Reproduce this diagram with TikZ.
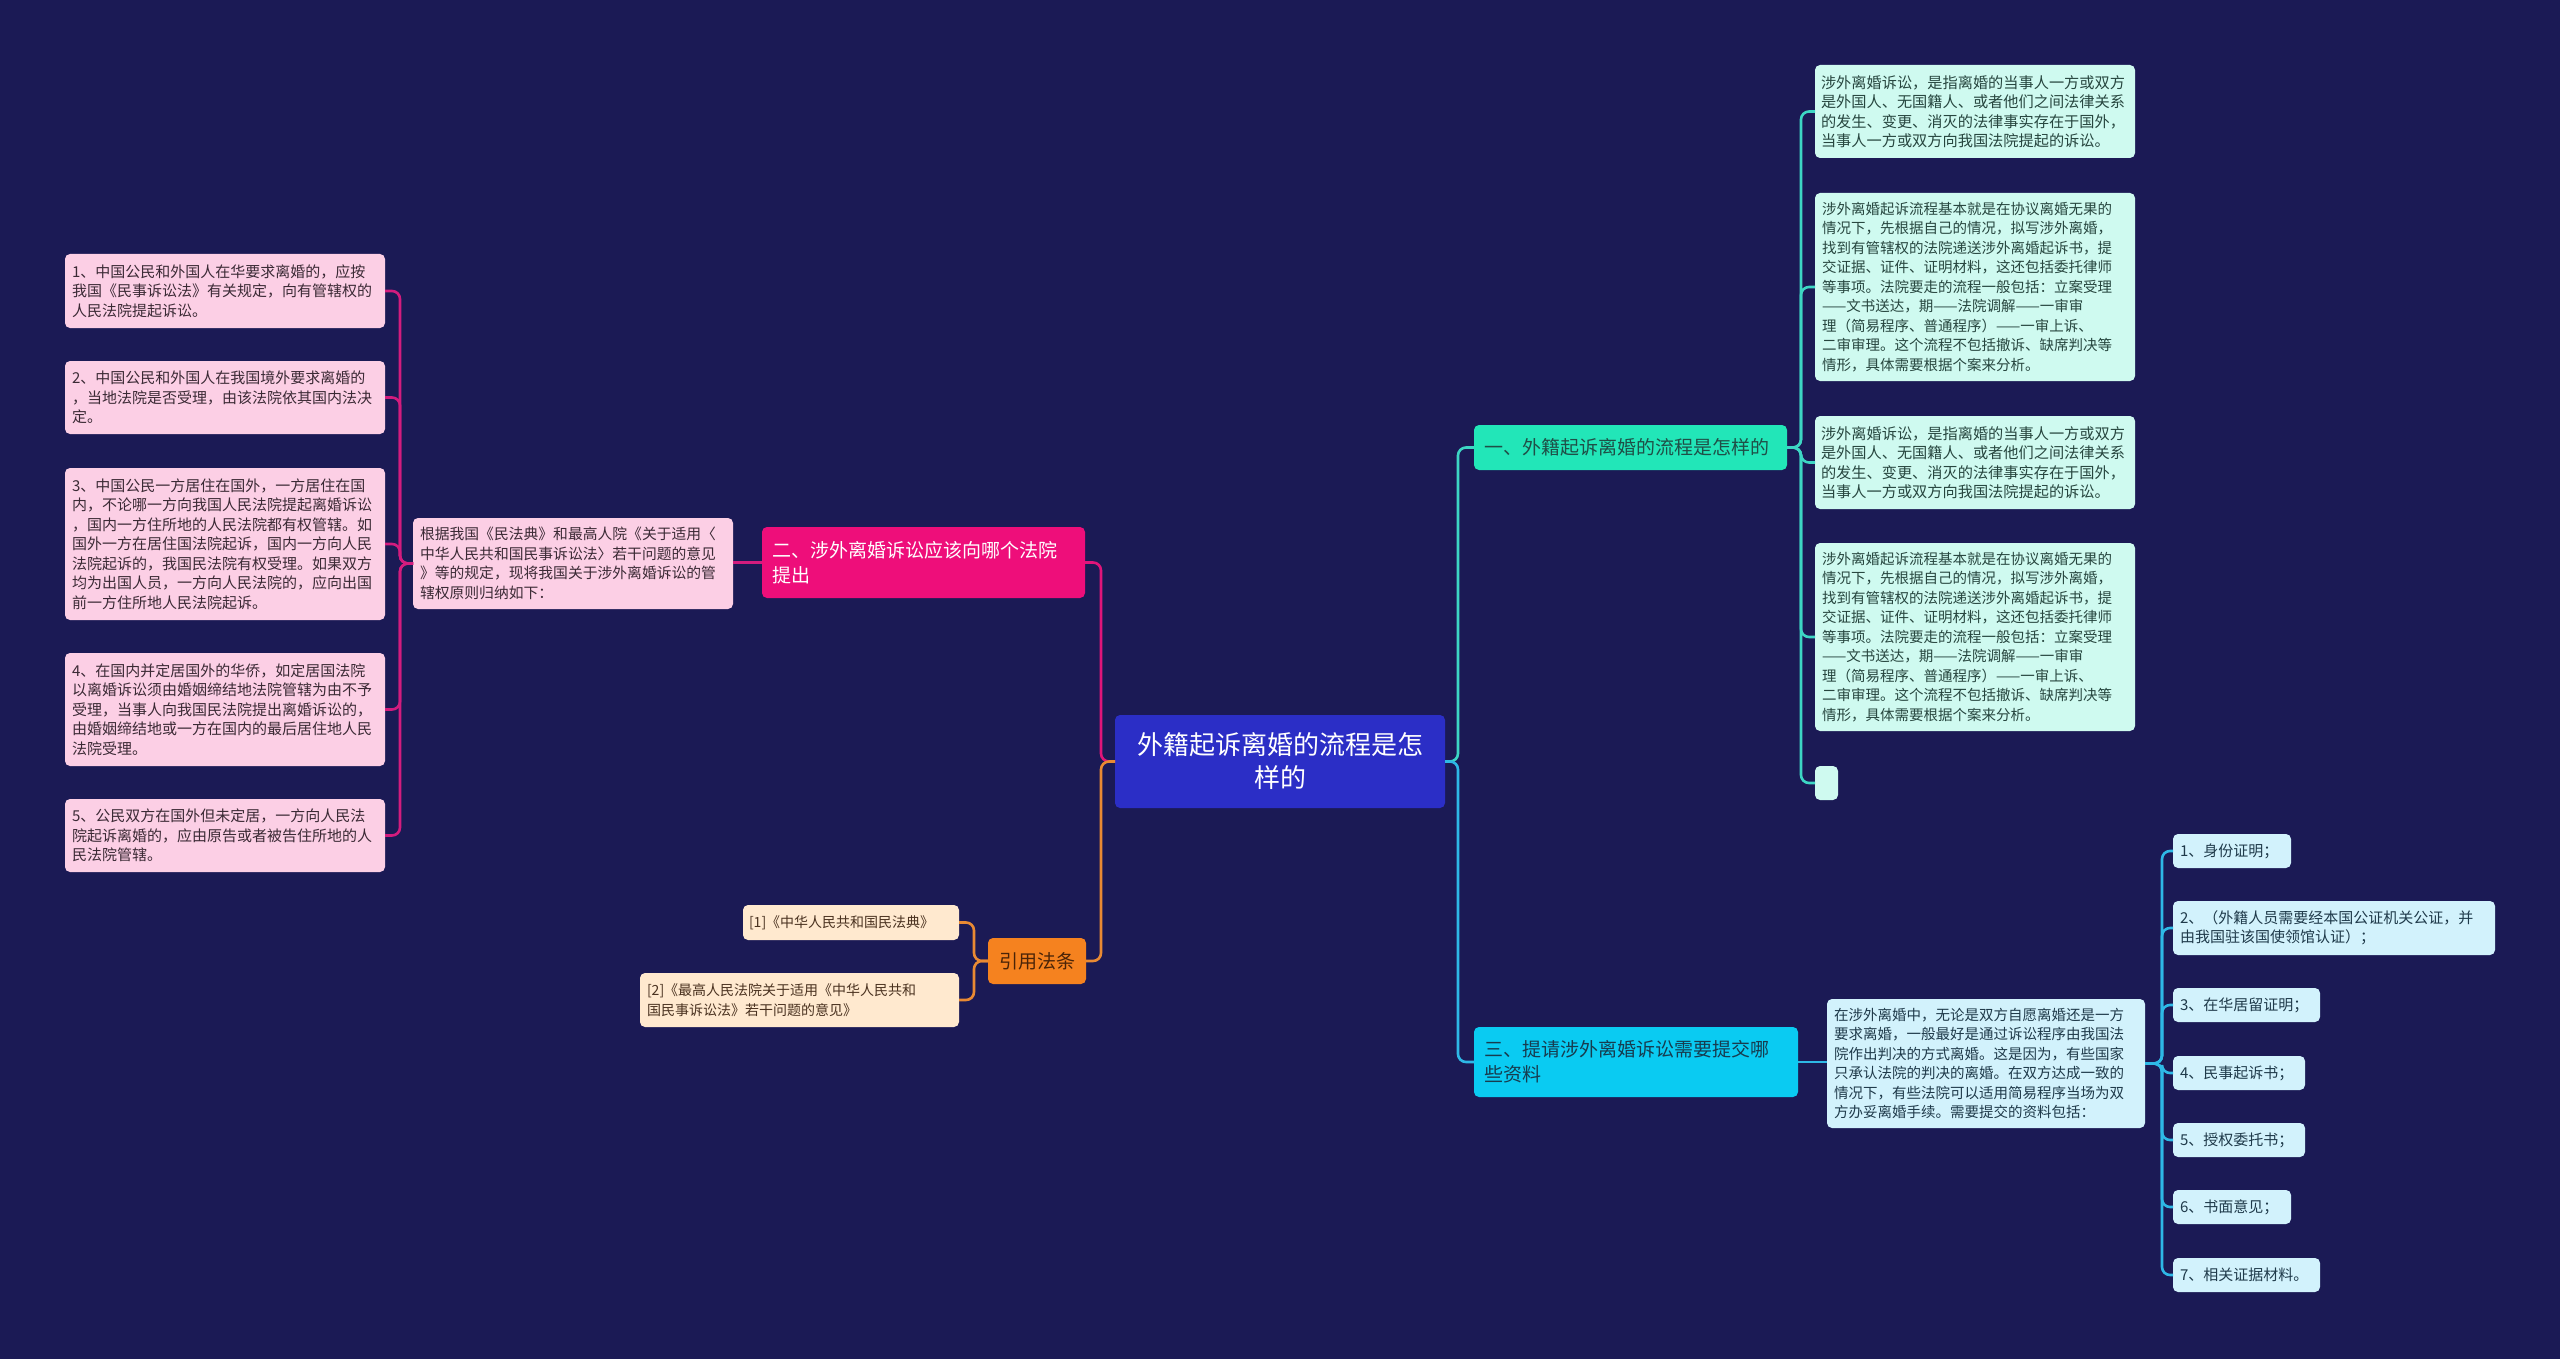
\documentclass[tikz,border=0pt]{standalone}
\usepackage{fontspec}
\setmainfont{Noto Sans CJK SC}
\definecolor{bgc}{HTML}{1B1A55}
\definecolor{centerfill}{HTML}{2B2EC6}
\definecolor{mintfill}{HTML}{CFFAF0}
\definecolor{minttext}{HTML}{27463F}
\definecolor{branchmint}{HTML}{22E6B8}
\definecolor{branchmtext}{HTML}{1F4F47}
\definecolor{branchpink}{HTML}{EE0E7A}
\definecolor{pinkfill}{HTML}{FCCFE5}
\definecolor{pinktext}{HTML}{3B2A35}
\definecolor{branchorange}{HTML}{F5821F}
\definecolor{orangetext}{HTML}{4A2408}
\definecolor{peachfill}{HTML}{FFE9CF}
\definecolor{peachtext}{HTML}{4A3220}
\definecolor{branchcyan}{HTML}{0ACBF2}
\definecolor{cyantextdark}{HTML}{173C4F}
\definecolor{cyanfill}{HTML}{D2F2FC}
\definecolor{cyantext}{HTML}{1F3A4A}
\definecolor{linepink}{HTML}{E0157A}
\definecolor{linemag}{HTML}{D31C7E}
\definecolor{lineorange}{HTML}{E98A33}
\definecolor{linemint}{HTML}{3DD6C4}
\definecolor{linecyan}{HTML}{2EB8E6}
\begin{document}
\begin{tikzpicture}[x=1pt,y=-1pt,
  box/.style={rounded corners=5pt, inner xsep=7pt, inner ysep=0pt, align=left, anchor=north west, outer sep=0pt},
  ldet/.style={box, fill=pinkfill, text=pinktext, font=\fontsize{15}{19.5}\selectfont},
  rdet/.style={box, fill=mintfill, text=minttext, font=\fontsize{14.5}{19.5}\selectfont},
  cdet/.style={box, fill=cyanfill, text=cyantext, font=\fontsize{14.5}{19.5}\selectfont},
  itembox/.style={box, fill=cyanfill, text=cyantext, font=\fontsize{15}{19.5}\selectfont},
  citebox/.style={box, fill=peachfill, text=peachtext, font=\fontsize{14}{19.5}\selectfont},
  branchbox/.style={box, inner xsep=10pt, font=\fontsize{19}{25}\selectfont},
  edgebase/.style={line width=2.6pt, rounded corners=8pt},
  epink/.style={edgebase, draw=linepink},
  emag/.style={edgebase, draw=linemag},
  eorange/.style={edgebase, draw=lineorange},
  emint/.style={edgebase, draw=linemint},
  ecyan/.style={edgebase, draw=linecyan}
]
\fill[bgc] (0,0) rectangle (2560,1359);
\useasboundingbox (0,0) rectangle (2560,1359);

% central topic
\node[box, fill=centerfill, text=white, align=center, inner xsep=7pt,
  font=\fontsize{26}{33}\selectfont, minimum width=330pt, minimum height=93pt, text width=316pt]
  (c) at (1115,715) {外籍起诉离婚的流程是怎\\样的};

% branches
\node[branchbox, fill=branchmint, text=branchmtext, minimum width=313pt, minimum height=45pt, text width=293pt]
  (b1) at (1474,425) {一、外籍起诉离婚的流程是怎样的};
\node[branchbox, fill=branchpink, text=white, minimum width=323pt, minimum height=71pt, text width=303pt]
  (b2) at (762,527) {二、涉外离婚诉讼应该向哪个法院\\提出};
\node[branchbox, fill=branchcyan, text=cyantextdark, minimum width=324pt, minimum height=70pt, text width=304pt]
  (b3) at (1474,1027) {三、提请涉外离婚诉讼需要提交哪\\些资料};
\node[branchbox, fill=branchorange, text=orangetext, align=center, inner xsep=5pt, minimum width=98pt, minimum height=46pt, text width=88pt]
  (cite) at (988,938) {引用法条};

% branch 1 details
\node[rdet, font=\fontsize{15.2}{19.5}\selectfont, inner xsep=6pt, minimum width=320pt, minimum height=93pt, text width=308pt] (r1) at (1815,65)
  {涉外离婚诉讼，是指离婚的当事人一方或双方\\是外国人、无国籍人、或者他们之间法律关系\\的发生、变更、消灭的法律事实存在于国外，\\当事人一方或双方向我国法院提起的诉讼。};
\node[rdet, minimum width=320pt, minimum height=188pt, text width=306pt] (r2) at (1815,193)
  {涉外离婚起诉流程基本就是在协议离婚无果的\\情况下，先根据自己的情况，拟写涉外离婚，\\找到有管辖权的法院递送涉外离婚起诉书，提\\交证据、证件、证明材料，这还包括委托律师\\等事项。法院要走的流程一般包括：立案受理\\——文书送达，期——法院调解——一审审\\理（简易程序、普通程序）——一审上诉、\\二审审理。这个流程不包括撤诉、缺席判决等\\情形，具体需要根据个案来分析。};
\node[rdet, font=\fontsize{15.2}{19.5}\selectfont, inner xsep=6pt, minimum width=320pt, minimum height=93pt, text width=308pt] (r3) at (1815,416)
  {涉外离婚诉讼，是指离婚的当事人一方或双方\\是外国人、无国籍人、或者他们之间法律关系\\的发生、变更、消灭的法律事实存在于国外，\\当事人一方或双方向我国法院提起的诉讼。};
\node[rdet, minimum width=320pt, minimum height=188pt, text width=306pt] (r4) at (1815,543)
  {涉外离婚起诉流程基本就是在协议离婚无果的\\情况下，先根据自己的情况，拟写涉外离婚，\\找到有管辖权的法院递送涉外离婚起诉书，提\\交证据、证件、证明材料，这还包括委托律师\\等事项。法院要走的流程一般包括：立案受理\\——文书送达，期——法院调解——一审审\\理（简易程序、普通程序）——一审上诉、\\二审审理。这个流程不包括撤诉、缺席判决等\\情形，具体需要根据个案来分析。};
\node[rdet, inner xsep=0pt, minimum width=23pt, minimum height=34pt] (r5) at (1815,766) {};

% branch 2 details
\node[ldet, font=\fontsize{14.8}{19.5}\selectfont, minimum width=320pt, minimum height=91pt, text width=306pt] (d2) at (413,518)
  {根据我国《民法典》和最高人院《关于适用〈\\中华人民共和国民事诉讼法〉若干问题的意见\\》等的规定，现将我国关于涉外离婚诉讼的管\\辖权原则归纳如下：};
\node[ldet, minimum width=320pt, minimum height=74pt, text width=306pt] (l1) at (65,254)
  {1、中国公民和外国人在华要求离婚的，应按\\我国《民事诉讼法》有关规定，向有管辖权的\\人民法院提起诉讼。};
\node[ldet, minimum width=320pt, minimum height=73pt, text width=306pt] (l2) at (65,361)
  {2、中国公民和外国人在我国境外要求离婚的\\，当地法院是否受理，由该法院依其国内法决\\定。};
\node[ldet, minimum width=320pt, minimum height=152pt, text width=306pt] (l3) at (65,468)
  {3、中国公民一方居住在国外，一方居住在国\\内，不论哪一方向我国人民法院提起离婚诉讼\\，国内一方住所地的人民法院都有权管辖。如\\国外一方在居住国法院起诉，国内一方向人民\\法院起诉的，我国民法院有权受理。如果双方\\均为出国人员，一方向人民法院的，应向出国\\前一方住所地人民法院起诉。};
\node[ldet, minimum width=320pt, minimum height=113pt, text width=306pt] (l4) at (65,653)
  {4、在国内并定居国外的华侨，如定居国法院\\以离婚诉讼须由婚姻缔结地法院管辖为由不予\\受理，当事人向我国民法院提出离婚诉讼的，\\由婚姻缔结地或一方在国内的最后居住地人民\\法院受理。};
\node[ldet, minimum width=320pt, minimum height=73pt, text width=306pt] (l5) at (65,799)
  {5、公民双方在国外但未定居，一方向人民法\\院起诉离婚的，应由原告或者被告住所地的人\\民法院管辖。};

% citations
\node[citebox, inner xsep=6pt, minimum width=216pt, minimum height=35pt, text width=204pt] (q1) at (743,905)
  {[1]《中华人民共和国民法典》};
\node[citebox, minimum width=319pt, minimum height=54pt, text width=305pt] (q2) at (640,973)
  {[2]《最高人民法院关于适用《中华人民共和\\国民事诉讼法》若干问题的意见》};

% branch 3 details
\node[cdet, minimum width=318pt, minimum height=129pt, text width=304pt] (d3) at (1827,999)
  {在涉外离婚中，无论是双方自愿离婚还是一方\\要求离婚，一般最好是通过诉讼程序由我国法\\院作出判决的方式离婚。这是因为，有些国家\\只承认法院的判决的离婚。在双方达成一致的\\情况下，有些法院可以适用简易程序当场为双\\方办妥离婚手续。需要提交的资料包括：};
\node[itembox, minimum width=118pt, minimum height=34pt, text width=104pt] (i1) at (2173,834) {1、身份证明；};
\node[itembox, minimum width=322pt, minimum height=54pt, text width=308pt] (i2) at (2173,901) {2、（外籍人员需要经本国公证机关公证，并\\由我国驻该国使领馆认证）；};
\node[itembox, minimum width=147pt, minimum height=34pt, text width=133pt] (i3) at (2173,988) {3、在华居留证明；};
\node[itembox, minimum width=132pt, minimum height=34pt, text width=118pt] (i4) at (2173,1056) {4、民事起诉书；};
\node[itembox, minimum width=132pt, minimum height=34pt, text width=118pt] (i5) at (2173,1123) {5、授权委托书；};
\node[itembox, minimum width=118pt, minimum height=34pt, text width=104pt] (i6) at (2173,1190) {6、书面意见；};
\node[itembox, minimum width=147pt, minimum height=34pt, text width=133pt] (i7) at (2173,1258) {7、相关证据材料。};

% connectors
\draw[epink] (c.west) -- ++(-14,0) |- (b2.east);
\draw[eorange] (c.west) -- ++(-14,0) |- (cite.east);
\draw[emint] (c.east) -- ++(13,0) |- (b1.west);
\draw[ecyan] (c.east) -- ++(13,0) |- (b3.west);
\draw[emag] (b2.west) -- (d2.east |- b2.west);
\foreach \n in {l1,l2,l3,l4,l5} {\draw[emag] (d2.west) -- ++(-13,0) |- (\n.east);}
\foreach \n in {r1,r2,r3,r4,r5} {\draw[emint] (b1.east) -- ++(14,0) |- (\n.west);}
\draw[ecyan] (b3.east) -- (d3.west |- b3.east);
\foreach \n in {i1,i2,i3,i4,i5,i6,i7} {\draw[ecyan] (d3.east) -- ++(17,0) |- (\n.west);}
\foreach \n in {q1,q2} {\draw[eorange] (cite.west) -- ++(-14,0) |- (\n.east);}
\end{tikzpicture}
\end{document}
